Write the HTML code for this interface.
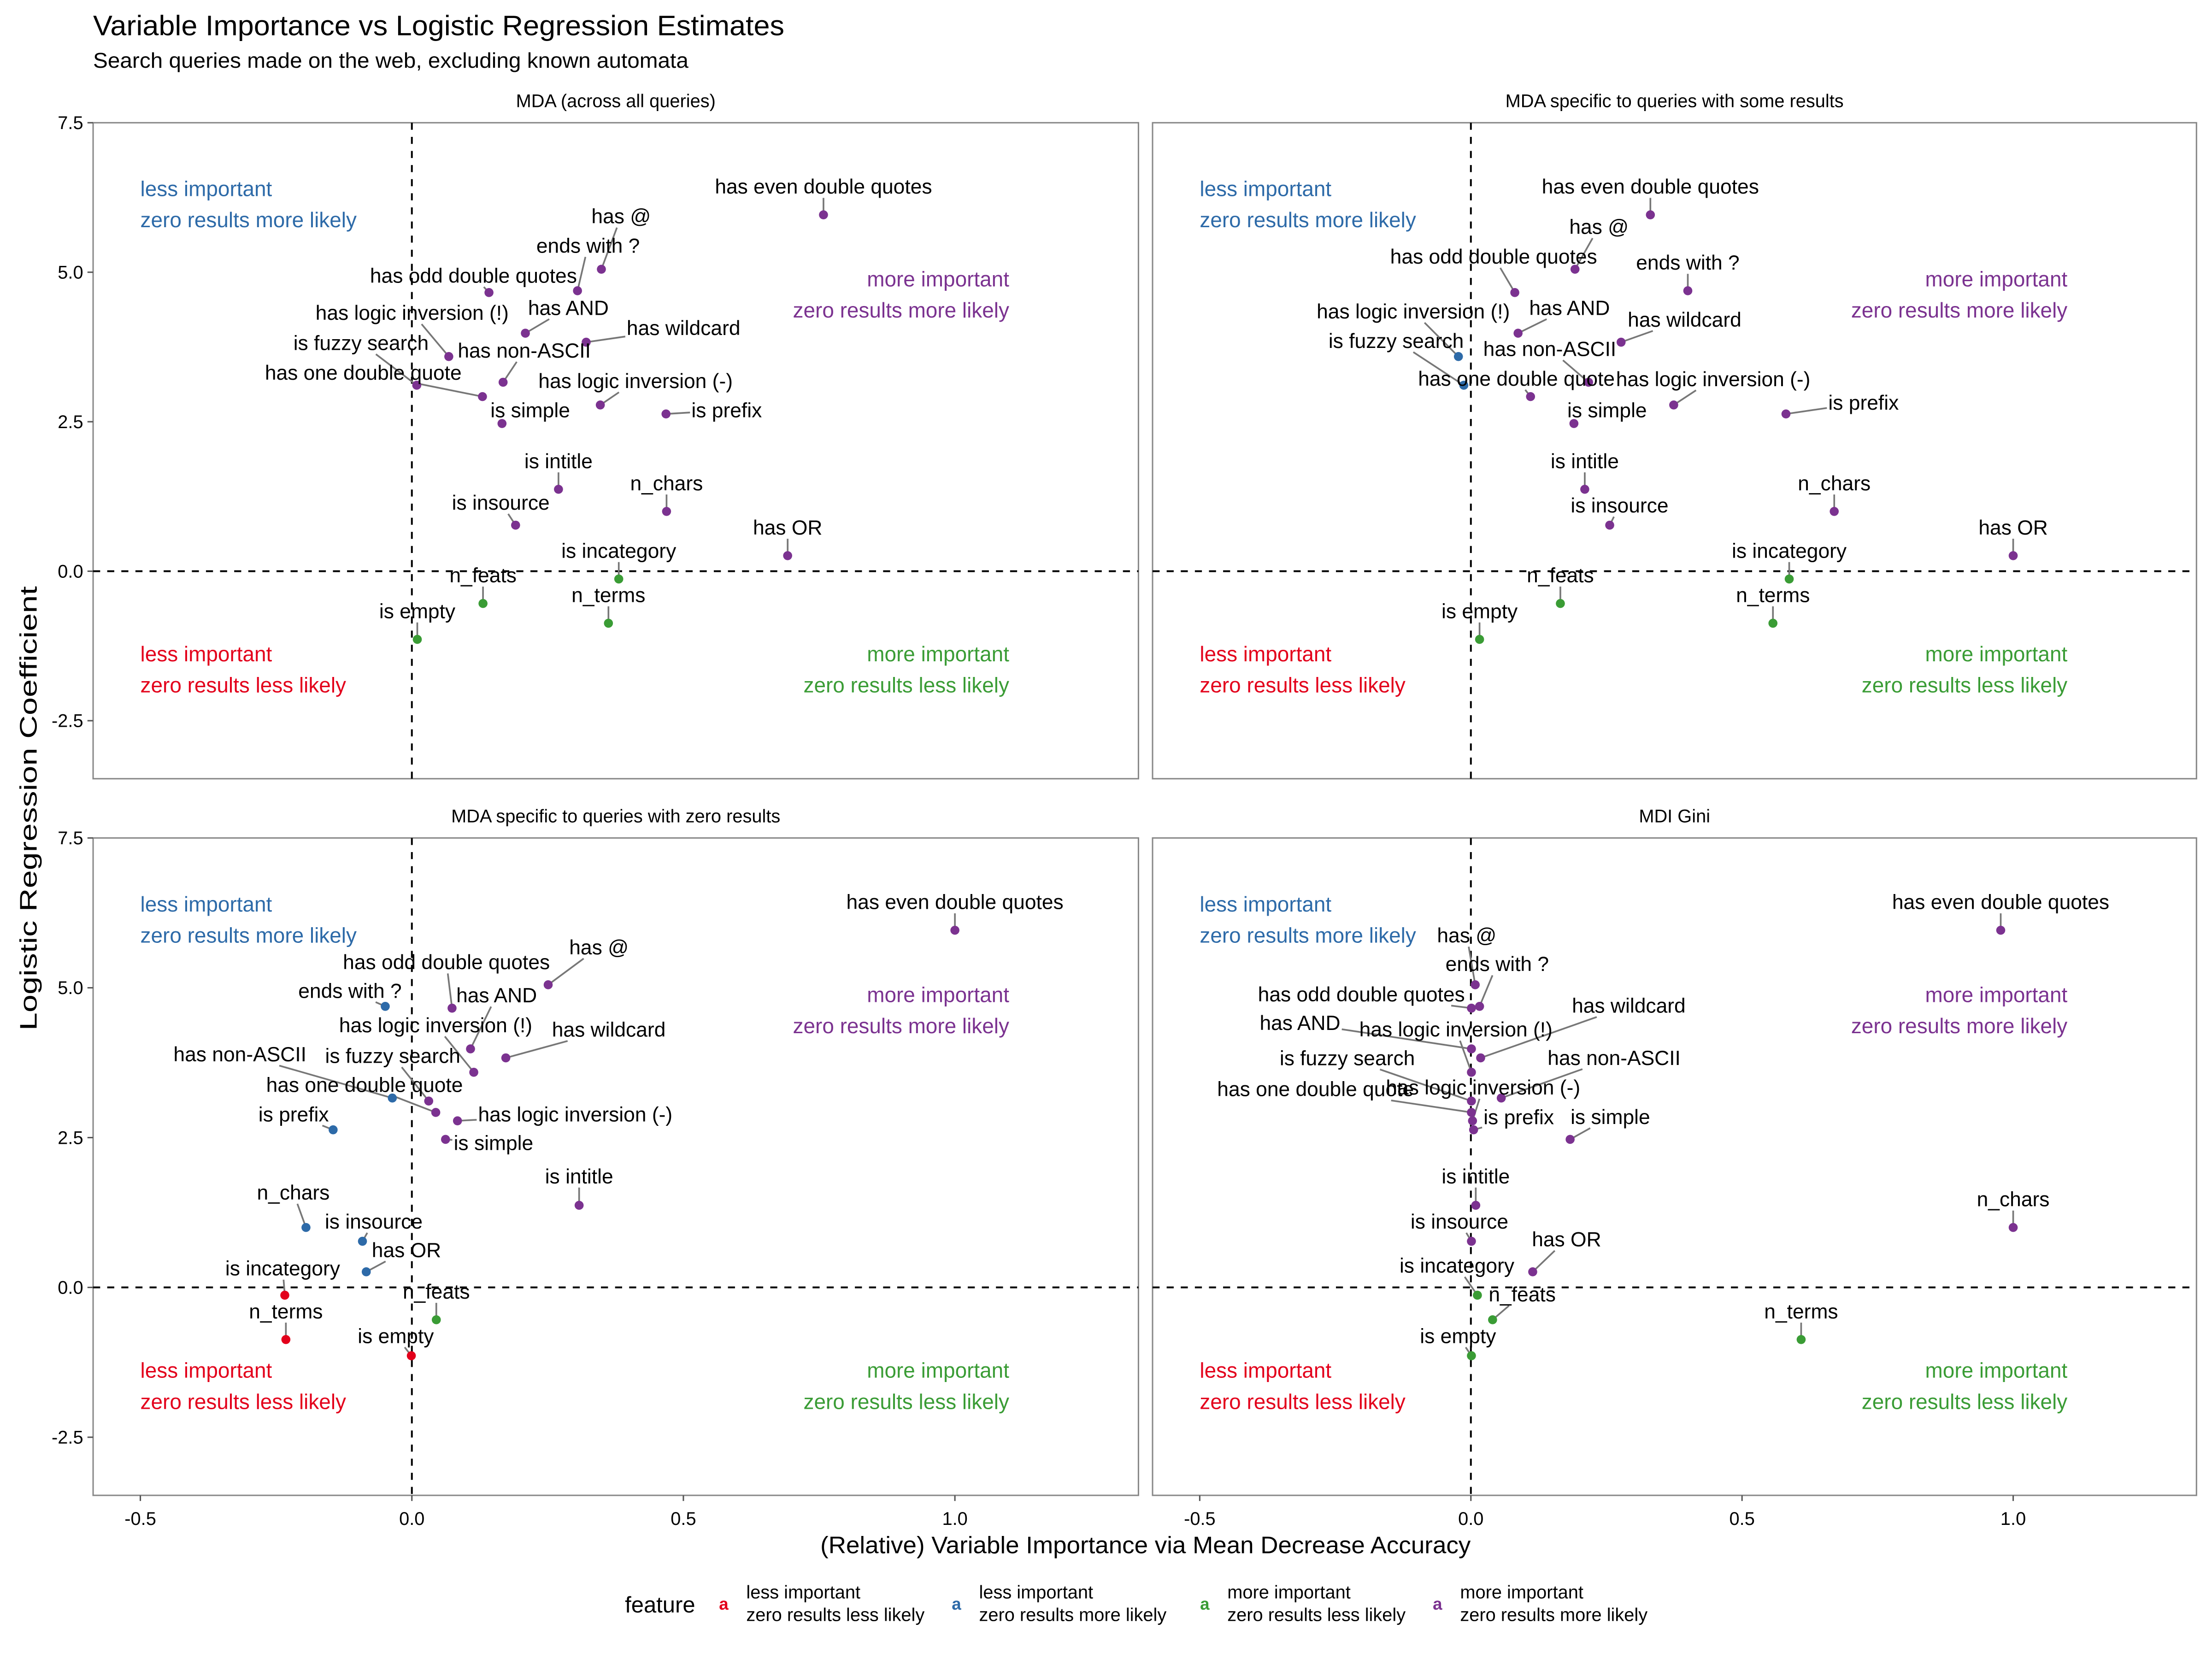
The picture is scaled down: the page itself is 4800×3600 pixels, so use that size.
<!DOCTYPE html>
<html><head><meta charset="utf-8">
<style>
html,body{margin:0;padding:0;background:#fff;}
svg{display:block;}
text{font-family:"Liberation Sans",sans-serif;}
</style></head>
<body>
<svg id="chart" width="4800" height="3600" viewBox="0 0 1568 1176" xmlns="http://www.w3.org/2000/svg">
<rect x="0" y="0" width="1568" height="1176" fill="#fff"/>
<text x="66" y="25" font-size="20" textLength="490" lengthAdjust="spacingAndGlyphs">Variable Importance vs Logistic Regression Estimates</text>
<text x="66" y="48" font-size="15" textLength="422" lengthAdjust="spacingAndGlyphs">Search queries made on the web, excluding known automata</text>
<text x="812" y="1101" font-size="17" text-anchor="middle" textLength="461" lengthAdjust="spacingAndGlyphs">(Relative) Variable Importance via Mean Decrease Accuracy</text>
<text x="0" y="0" font-size="17" text-anchor="middle" transform="translate(26,573) rotate(-90)" textLength="315" lengthAdjust="spacingAndGlyphs">Logistic Regression Coefficient</text>
<g id="panels"></g>
<g id="legend"></g>
</svg>
<script>
// ---- data ----
const features = ["has even double quotes","has @","ends with ?","has odd double quotes","has AND","has wildcard","has logic inversion (!)","has non-ASCII","is fuzzy search","has one double quote","has logic inversion (-)","is prefix","is simple","is intitle","n_chars","is insource","has OR","is incategory","n_feats","n_terms","is empty"];
const coefVals = [5.96,5.05,4.69,4.66,3.98,3.83,3.59,3.16,3.11,2.92,2.78,2.63,2.47,1.37,1.00,0.77,0.26,-0.13,-0.54,-0.87,-1.14];
const mdaAll   = [0.758,0.349,0.305,0.142,0.209,0.321,0.068,0.168,0.009,0.130,0.347,0.468,0.166,0.270,0.469,0.191,0.692,0.381,0.131,0.362,0.010];
const mdaSome  = [0.331,0.192,0.400,0.081,0.087,0.277,-0.023,0.217,-0.013,0.110,0.374,0.581,0.190,0.210,0.670,0.256,1.000,0.587,0.165,0.557,0.016];
const mdaZero  = [1.000,0.251,-0.049,0.074,0.108,0.173,0.114,-0.036,0.031,0.044,0.084,-0.145,0.062,0.308,-0.195,-0.091,-0.084,-0.234,0.045,-0.232,-0.001];
const mdiGini  = [0.977,0.008,0.016,0.001,0.001,0.018,0.001,0.056,0.001,0.001,0.003,0.005,0.183,0.009,1.000,0.001,0.114,0.012,0.040,0.609,0.001];
const xTicks = [-0.5,0,0.5,1.0];
const xTickLabels = ["-0.5","0.0","0.5","1.0"];
const yTicks = [7.5,5.0,2.5,0,-2.5];
const yTickLabels = ["7.5","5.0","2.5","0.0","-2.5"];
const panelTitles = ["MDA (across all queries)","MDA specific to queries with some results","MDA specific to queries with zero results","MDI Gini"];
const categoryNames = [["less important","zero results less likely"],["less important","zero results more likely"],["more important","zero results less likely"],["more important","zero results more likely"]];

// ---- layout (label offsets in px, not data) ----
const labelOffsets = [
 [[0,-20],[14,-37.5],[7.5,-32],[-11,-12],[30.5,-18],[69,-10],[-26,-31],[15,-22.5],[-39.5,-30],[-84.5,-17],[25,-17],[43,-2.6],[20,-9.4],[0,-20],[0,-20],[-10.5,-16],[0,-20],[0,-20],[0,-20],[0,-20],[0,-20]],
 [[0,-20],[17,-30],[0,-20],[-15,-25.5],[36.5,-18],[45,-16],[-32,-32],[-27.5,-23.6],[-48,-31.5],[-10,-12.8],[28,-18.4],[55,-8],[23.5,-9.4],[0,-20],[0,-20],[7,-14],[0,-20],[0,-20],[0,-20],[0,-20],[0,-20]],
 [[0,-20],[36,-26.6],[-25,-11],[-4,-32.6],[18.5,-38],[73,-20],[-27,-33.4],[-108,-31],[-25.5,-32],[-50.5,-19.5],[83.5,-4.5],[-28,-11],[34,2.6],[0,-20.6],[-9,-24.8],[8,-14],[28.5,-15.4],[-1.5,-19],[0,-20],[0,-20],[-11,-14]],
 [[0,-20],[-6,-35],[12.5,-30],[-78,-9.8],[-121.5,-18.4],[105,-37],[-11,-30.4],[80,-28.5],[-88,-30.4],[-110.5,-16.5],[7.5,-23.6],[32,-9],[28.5,-16],[0,-20.6],[0,-20],[-8.5,-14],[24,-23],[-14.5,-21],[21,-18],[0,-20],[-9.5,-14]]
];
const colors = {red:"#e3001b",blue:"#2d6aa8",green:"#3a9c35",purple:"#7b3290"};
const panelBoxes = [[66,807,87,552],[817,1557,87,552],[66,807,594,1060],[817,1557,594,1060]];
const XMIN=-0.587, XMAX=1.338, YMIN=-3.47, YMAX=7.5;
const NS="http://www.w3.org/2000/svg";
const panelsG=document.getElementById('panels');
function mk(tag,attrs,parent){const e=document.createElementNS(NS,tag);for(const k in attrs)e.setAttribute(k,attrs[k]);parent.appendChild(e);return e;}
function catOf(x,y){ if(y>0) return x>0?'purple':'blue'; return x>0?'green':'red'; }

const allX=[mdaAll,mdaSome,mdaZero,mdiGini];
allX.forEach((xv,pi)=>{
  const [x0,x1,y0,y1]=panelBoxes[pi];
  const sx=v=>x0+(v-XMIN)/(XMAX-XMIN)*(x1-x0);
  const sy=v=>y0+(YMAX-v)/(YMAX-YMIN)*(y1-y0);
  const g=mk('g',{},panelsG);
  
  
  const st=mk('text',{x:(x0+x1)/2,y:y0-11,'font-size':13,'text-anchor':'middle'},g);
  
  
  st.textContent=panelTitles[pi];
  const fr=mk('rect',{x:x0,y:y0,width:x1-x0,height:y1-y0,fill:'none',stroke:'#888','stroke-width':1},g);
  
  
  if(pi%2===0){
    yTicks.forEach((t,i)=>{
      const yy=sy(t);
      const tl=mk('line',{x1:x0-4,x2:x0,y1:yy,y2:yy,stroke:'#555','stroke-width':1},g);
      
      
      const tx=mk('text',{x:x0-7,y:yy+4.5,'font-size':13,'text-anchor':'end'},g);
      
      
      tx.textContent=yTickLabels[i];
    });
  }
  if(pi>=2){
    xTicks.forEach((t,i)=>{
      const xx=sx(t);
      const tl=mk('line',{x1:xx,x2:xx,y1:y1,y2:y1+4,stroke:'#555','stroke-width':1},g);
      
      
      const tx=mk('text',{x:xx,y:y1+21,'font-size':13,'text-anchor':'middle'},g);
      
      
      tx.textContent=xTickLabels[i];
    });
  }
  const vl=mk('line',{x1:sx(0),x2:sx(0),y1:y0,y2:y1,stroke:'#000','stroke-width':1.3,'stroke-dasharray':'5,5'},g);
  
  
  const hl=mk('line',{x1:x0,x2:x1,y1:sy(0),y2:sy(0),stroke:'#000','stroke-width':1.3,'stroke-dasharray':'5,5'},g);
  
  
  const ann=[[sx(-0.5),sy(6.39),'start',colors.blue,'less important'],[sx(-0.5),sy(5.87),'start',colors.blue,'zero results more likely'],
             [sx(1.10),sy(4.88),'end',colors.purple,'more important'],[sx(1.10),sy(4.36),'end',colors.purple,'zero results more likely'],
             [sx(-0.5),sy(-1.39),'start',colors.red,'less important'],[sx(-0.5),sy(-1.91),'start',colors.red,'zero results less likely'],
             [sx(1.10),sy(-1.39),'end',colors.green,'more important'],[sx(1.10),sy(-1.91),'end',colors.green,'zero results less likely']];
  ann.forEach(a=>{
    const t=mk('text',{x:a[0],y:a[1]+5,'font-size':15,'text-anchor':a[2],fill:a[3]},g);
    
    
    t.textContent=a[4];
  });
  const segG=mk('g',{},g);
  const ptG=mk('g',{},g);
  const lbG=mk('g',{},g);
  features.forEach((f,i)=>{
    const px=sx(xv[i]), py=sy(coefVals[i]);
    const c=colors[catOf(xv[i],coefVals[i])];
    const off=labelOffsets[pi][i];
    const lx=px+off[0], ly=py+off[1];
    const t=mk('text',{x:lx,y:ly+5,'font-size':14.5,'text-anchor':'middle',fill:'#000'},lbG);
    
    
    t.textContent=f;
    const hw=t.getComputedTextLength()/2+1, hh=8;
    let dx=px-lx, dy=py-ly;
    if(Math.abs(dx)>hw||Math.abs(dy)>hh){
      let s=Math.min(dx!==0?hw/Math.abs(dx):Infinity, dy!==0?hh/Math.abs(dy):Infinity);
      const ex=lx+dx*s, ey=ly+dy*s;
      const len=Math.hypot(px-ex,py-ey);
      if(len>4){
        const seg=mk('line',{x1:px,y1:py,x2:ex,y2:ey,stroke:'#777','stroke-width':1.2},segG);
        
        
      }
    }
    const p=mk('circle',{cx:px,cy:py,r:3.2,fill:c},ptG);
    
    
  });
});
const lg=document.getElementById('legend');
const ft=mk('text',{x:443,y:1143,'font-size':16},lg);


ft.textContent='feature';
const keyX=[513,678,854,1019];
const keyC=[colors.red,colors.blue,colors.green,colors.purple];
keyX.forEach((kx,i)=>{
  const e=mk('g',{},lg);
  
  
  const k=mk('text',{x:kx,y:1141,'font-size':12,'text-anchor':'middle',fill:keyC[i],'font-weight':'bold'},e);
  
  
  k.textContent='a';
  const t1=mk('text',{x:kx+16,y:1133,'font-size':13},e);
  
  
  t1.textContent=categoryNames[i][0];
  const t2=mk('text',{x:kx+16,y:1149,'font-size':13},e);
  
  
  t2.textContent=categoryNames[i][1];
});
</script>
</body></html>
